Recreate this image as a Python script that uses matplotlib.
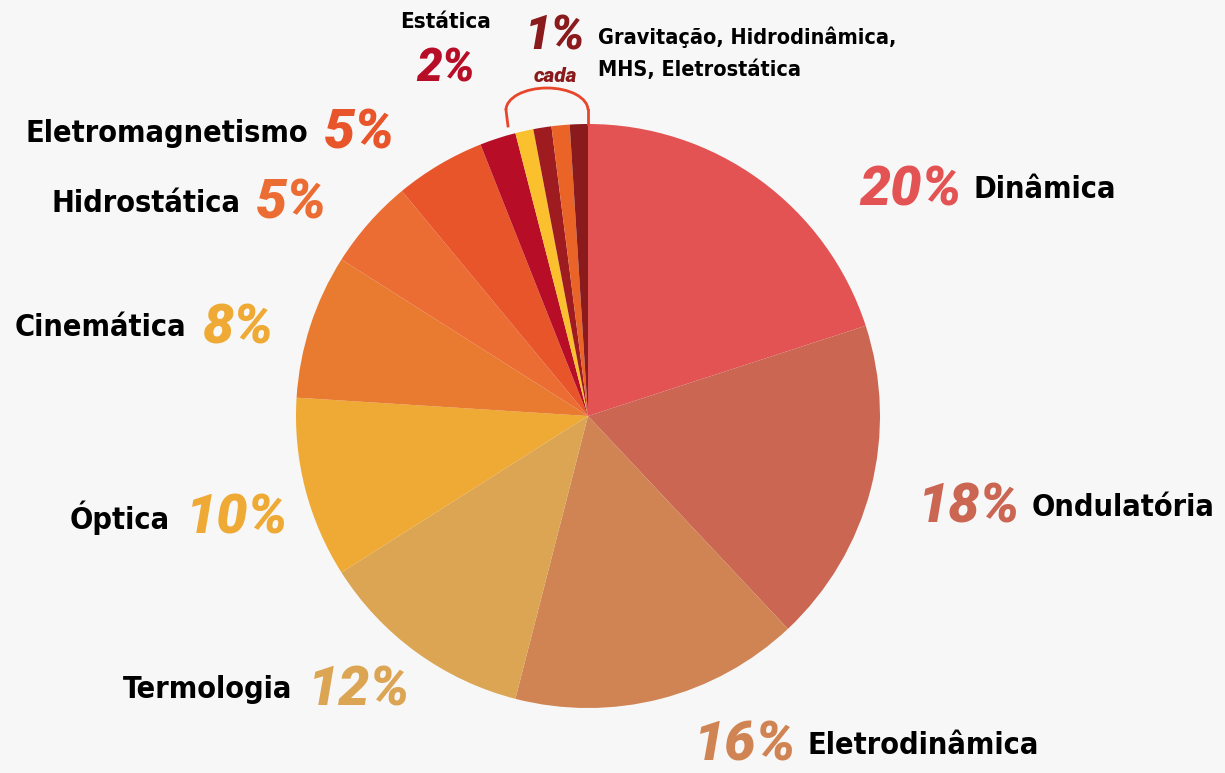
import matplotlib.pyplot as plt
from matplotlib.patches import Arc

topics = ["Dinâmica", "Ondulatória", "Eletrodinâmica", "Termologia", "Óptica",
          "Cinemática", "Hidrostática", "Eletromagnetismo", "Estática",
          "Gravitação", "Hidrodinâmica", "MHS", "Eletrostática"]
shares = [20, 18, 16, 12, 10, 8, 5, 5, 2, 1, 1, 1, 1]
colors = ["#e35353", "#cb6652", "#d08453", "#dca553", "#efa935", "#e87b2f",
          "#ec6d34", "#e8552a", "#b80d27", "#fbc02d", "#9e1b20", "#ea6428", "#8a1a1c"]
pct_colors = ["#e35353", "#cb6652", "#d08453", "#dca553", "#efa935", "#efa935",
              "#ec6d34", "#e8552a", "#b80d27"]

# label layout: (x of gap between name and percent, y in px from top, side)
label_pos = [(968, 190, "r"), (1026, 507, "r"), (802, 745, "r"), (300, 690, "l"),
             (178, 518, "l"), (194, 328, "l"), (248, 203, "l"), (316, 133, "l")]

W, H = 1225, 773
bg = "#f7f7f7"
name_font = dict(family=["DejaVu Sans"], fontstretch="condensed", fontweight="bold", color="black")
pct_font = dict(family=["Roboto", "DejaVu Sans"], fontweight="black", fontstyle="italic")

fig = plt.figure(figsize=(W / 100, H / 100), dpi=100, facecolor=bg)
ax = fig.add_axes([0, 0, 1, 1])
ax.set_facecolor(bg)

ax.pie(shares, colors=colors, startangle=90, counterclock=False,
       center=(588, H - 416), radius=292, wedgeprops=dict(linewidth=0))
ax.set_xlim(0, W)
ax.set_ylim(0, H)
ax.set_aspect("equal")
ax.axis("off")

for i, (x, y, side) in enumerate(label_pos):
    pct = f"{shares[i]}%"
    if side == "r":
        ax.text(x - 6, H - y, pct, ha="right", va="center", fontsize=40, color=pct_colors[i], **pct_font)
        ax.text(x + 6, H - y, topics[i], ha="left", va="center", fontsize=22, **name_font)
    else:
        ax.text(x - 8, H - y, topics[i], ha="right", va="center", fontsize=22, **name_font)
        ax.text(x + 8, H - y, pct, ha="left", va="center", fontsize=40, color=pct_colors[i], **pct_font)

# Estática on top
ax.text(446, H - 22, topics[8], ha="center", va="center", fontsize=16, **name_font)
ax.text(446, H - 68, f"{shares[8]}%", ha="center", va="center", fontsize=33, color=pct_colors[8], **pct_font)

# 1% each group
ax.text(555, H - 37, f"{shares[9]}%", ha="center", va="center", fontsize=34, color="#8a1a1c", **pct_font)
ax.text(555, H - 76, "cada", ha="center", va="center", fontsize=15, color="#8a1a1c", **pct_font)
ax.text(598, H - 37, ", ".join(topics[9:11]) + ",", ha="left", va="center", fontsize=15.5, **name_font)
ax.text(598, H - 70, ", ".join(topics[11:13]), ha="left", va="center", fontsize=15.5, **name_font)

# bracket over the small slices
ax.add_patch(Arc((547, H - 110), 82, 44, theta1=0, theta2=180, color="#e8452a", lw=2))
ax.plot([506, 508], [H - 110, H - 126], color="#e8452a", lw=2)
ax.plot([588, 588], [H - 110, H - 124], color="#e8452a", lw=2)

fig.savefig("out.png", dpi=100, facecolor=bg)
